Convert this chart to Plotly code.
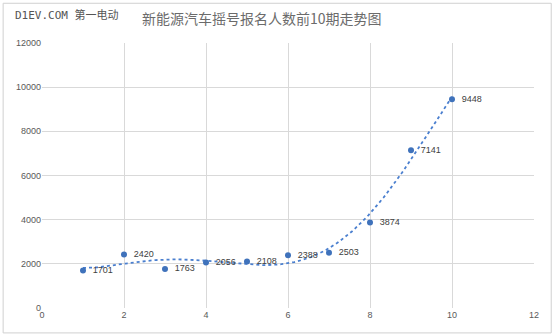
import numpy as np
import plotly.graph_objects as go

periods = [1, 2, 3, 4, 5, 6, 7, 8, 9, 10]
applicants = [1701, 2420, 1763, 2056, 2108, 2388, 2503, 3874, 7141, 9448]
x_ticks = [0, 2, 4, 6, 8, 10, 12]
y_ticks = [0, 2000, 4000, 6000, 8000, 10000, 12000]

title = "新能源汽车摇号报名人数前10期走势图"
watermark = "D1EV.COM 第一电动"

# polynomial (order 5) trendline fitted to the data
coef = np.polyfit(periods, applicants, 5)
tx = np.linspace(min(periods), max(periods), 200)
ty = np.polyval(coef, tx)

blue = "#3f72bb"
fig = go.Figure()
fig.add_trace(go.Scatter(
    x=tx, y=ty, mode="lines",
    line=dict(color="#4a7fcf", width=1.8, dash="dot"),
    hoverinfo="skip", showlegend=False))
fig.add_trace(go.Scatter(
    x=periods, y=applicants, mode="markers+text",
    marker=dict(color=blue, size=6),
    text=["  " + str(v) for v in applicants],
    textposition="middle right",
    textfont=dict(size=9, color="#404040", family="Liberation Sans, Arial"),
    showlegend=False))

fig.update_layout(
    width=554, height=336,
    margin=dict(l=42, r=20, t=43, b=28),
    paper_bgcolor="white", plot_bgcolor="white",
    font=dict(family="Liberation Sans, Arial", color="#595959", size=9),
    xaxis=dict(range=[0, 12], tickvals=x_ticks, showgrid=True, gridcolor="#d9d9d9",
               gridwidth=1, zeroline=False, showline=False, ticks="",
               tickfont=dict(size=9, color="#595959"), fixedrange=True),
    yaxis=dict(range=[0, 12000], tickvals=y_ticks, ticktext=[str(v) for v in y_ticks],
               showgrid=True, gridcolor="#d9d9d9",
               gridwidth=1, zeroline=False, showline=False, ticks="",
               tickfont=dict(size=9, color="#595959"), fixedrange=True),
    shapes=[dict(type="rect", xref="paper", yref="paper",
                 x0=-0.079, x1=1.035, y0=-0.094, y1=1.15,
                 line=dict(color="#d0d0d0", width=1))],
    annotations=[
        dict(text=title, xref="paper", yref="paper", x=0.448, y=1.094,
             xanchor="center", yanchor="middle", showarrow=False,
             font=dict(size=14, color="#6b6b6b", family="Noto Sans CJK SC")),
        dict(text=watermark, xref="paper", yref="paper", x=-0.058, y=1.106,
             xanchor="left", yanchor="middle", showarrow=False,
             font=dict(size=11, color="#555555", family="DejaVu Sans Mono, Noto Sans CJK SC")),
    ],
)
fig.write_html("out.html")
